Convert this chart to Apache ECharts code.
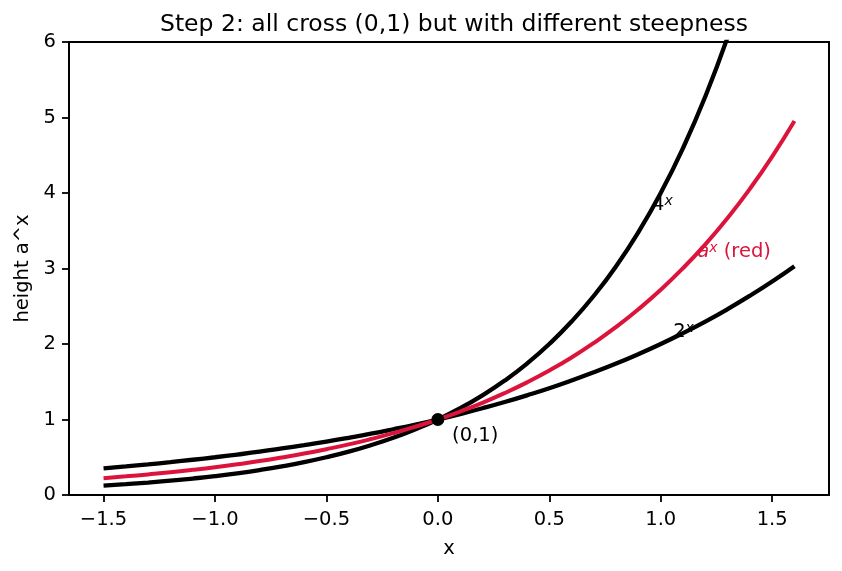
<!DOCTYPE html>
<html>
<head>
<meta charset="utf-8">
<script src="https://cdn.jsdelivr.net/npm/echarts@6/dist/echarts.min.js"></script>
<style>
  html, body { margin: 0; padding: 0; background: #fff; }
  #chart { width: 842px; height: 571px; }
</style>
</head>
<body>
<div id="chart"></div>
<script>
// x samples
const xs = [-1.5, -1.4, -1.3, -1.2, -1.1, -1.0, -0.9, -0.8, -0.7, -0.6, -0.5, -0.4, -0.3, -0.2, -0.1, 0.0,
            0.1, 0.2, 0.3, 0.4, 0.5, 0.6, 0.7, 0.8, 0.9, 1.0, 1.1, 1.2, 1.3, 1.4, 1.5, 1.6];
// 2^x
const y2 = [0.354, 0.379, 0.406, 0.435, 0.467, 0.500, 0.536, 0.574, 0.616, 0.660, 0.707, 0.758, 0.812, 0.871, 0.933, 1.000,
            1.072, 1.149, 1.231, 1.320, 1.414, 1.516, 1.625, 1.741, 1.866, 2.000, 2.144, 2.297, 2.462, 2.639, 2.828, 3.031];
// a^x (red)
const yA = [0.223, 0.247, 0.273, 0.301, 0.333, 0.368, 0.407, 0.449, 0.497, 0.549, 0.607, 0.670, 0.741, 0.819, 0.905, 1.000,
            1.105, 1.221, 1.350, 1.492, 1.649, 1.822, 2.014, 2.226, 2.460, 2.718, 3.004, 3.320, 3.669, 4.055, 4.482, 4.953];
// 4^x
const y4 = [0.125, 0.144, 0.165, 0.189, 0.218, 0.250, 0.287, 0.330, 0.379, 0.435, 0.500, 0.574, 0.660, 0.758, 0.871, 1.000,
            1.149, 1.320, 1.516, 1.741, 2.000, 2.297, 2.639, 3.031, 3.482, 4.000, 4.595, 5.278, 6.063, 6.964, 8.000, 9.190];

const xTicks = [-1.5, -1.0, -0.5, 0.0, 0.5, 1.0, 1.5];
const crossPoint = [[0, 1]];

// text annotations: [x, y, rich text]
const notes = [
    [0.961, 3.84, '{t|4}{s|x}'],
    [1.164, 3.22, '{r|a}{rs|x}{rt| (red)}'],
    [1.056, 2.16, '{t|2}{s|x}'],
    [0.064, 0.78, '{t|(0,1)}']
];

const RED = '#dc143c';
const FONT = 'DejaVu Sans';
const FS = 19.5;

const zip = (a, b) => a.map((v, i) => [v, b[i]]);
const minus = v => (v < 0 ? '\u2212' : '') + Math.abs(v).toFixed(1);

const chart = echarts.init(document.getElementById('chart'));

const option = {
    animation: false,
    backgroundColor: '#fff',
    title: {
        text: 'Step 2: all cross (0,1) but with different steepness',
        left: 449,
        top: 8,
        textAlign: 'center',
        textStyle: { fontFamily: FONT, fontSize: 23.5, fontWeight: 'normal', color: '#000' }
    },
    grid: {
        left: 69, right: 13, top: 42, bottom: 76,
        show: true, borderColor: '#000', borderWidth: 2, backgroundColor: 'transparent'
    },
    xAxis: {
        type: 'value',
        min: -1.655,
        max: 1.755,
        name: 'x',
        nameLocation: 'middle',
        nameGap: 44,
        nameTextStyle: { fontFamily: FONT, fontSize: FS, color: '#000' },
        axisLine: { show: true, onZero: false, lineStyle: { color: '#000', width: 2 } },
        axisTick: { show: true, inside: false, length: 7, customValues: xTicks, lineStyle: { color: '#000', width: 1.8 } },
        axisLabel: { customValues: xTicks, margin: 15, formatter: minus, fontFamily: FONT, fontSize: FS, color: '#000' },
        splitLine: { show: false }
    },
    yAxis: {
        type: 'value',
        min: 0,
        max: 6,
        interval: 1,
        name: 'height a^x',
        nameLocation: 'middle',
        nameRotate: 90,
        nameGap: 36,
        nameTextStyle: { fontFamily: FONT, fontSize: FS, color: '#000' },
        axisLine: { show: true, onZero: false, lineStyle: { color: '#000', width: 2 } },
        axisTick: { show: true, inside: false, length: 7, lineStyle: { color: '#000', width: 1.8 } },
        axisLabel: { margin: 13, fontFamily: FONT, fontSize: FS, color: '#000' },
        splitLine: { show: false }
    },
    series: [
        {
            name: '2^x', type: 'line', data: zip(xs, y2), showSymbol: false, smooth: true,
            lineStyle: { color: '#000', width: 4.3, cap: 'butt' }, clip: true
        },
        {
            name: '4^x', type: 'line', data: zip(xs, y4), showSymbol: false, smooth: true,
            lineStyle: { color: '#000', width: 4.3, cap: 'butt' }, clip: true
        },
        {
            name: 'a^x', type: 'line', data: zip(xs, yA), showSymbol: false, smooth: true,
            lineStyle: { color: RED, width: 4, cap: 'butt' }, clip: true
        },
        {
            name: 'point', type: 'scatter', data: crossPoint, symbolSize: 13,
            itemStyle: { color: '#000', opacity: 1 }, z: 5
        },
        {
            name: 'notes', type: 'scatter', symbolSize: 0, silent: true, z: 6,
            itemStyle: { opacity: 1 },
            data: notes.map(n => ({
                value: [n[0], n[1]],
                label: {
                    show: true,
                    position: [0, 0],
                    align: 'left',
                    verticalAlign: 'middle',
                    formatter: n[2],
                    rich: {
                        t: { fontFamily: FONT, fontSize: FS, color: '#000', lineHeight: 22 },
                        s: { fontFamily: FONT, fontStyle: 'italic', fontSize: 14, color: '#000', lineHeight: 8, verticalAlign: 'top' },
                        r: { fontFamily: FONT, fontStyle: 'italic', fontSize: FS, color: RED, lineHeight: 22 },
                        rs: { fontFamily: FONT, fontStyle: 'italic', fontSize: 14, color: RED, lineHeight: 8, verticalAlign: 'top' },
                        rt: { fontFamily: FONT, fontSize: FS, color: RED, lineHeight: 22 }
                    }
                }
            }))
        }
    ]
};

chart.setOption(option);
window.addEventListener('resize', () => chart.resize());
</script>
</body>
</html>
